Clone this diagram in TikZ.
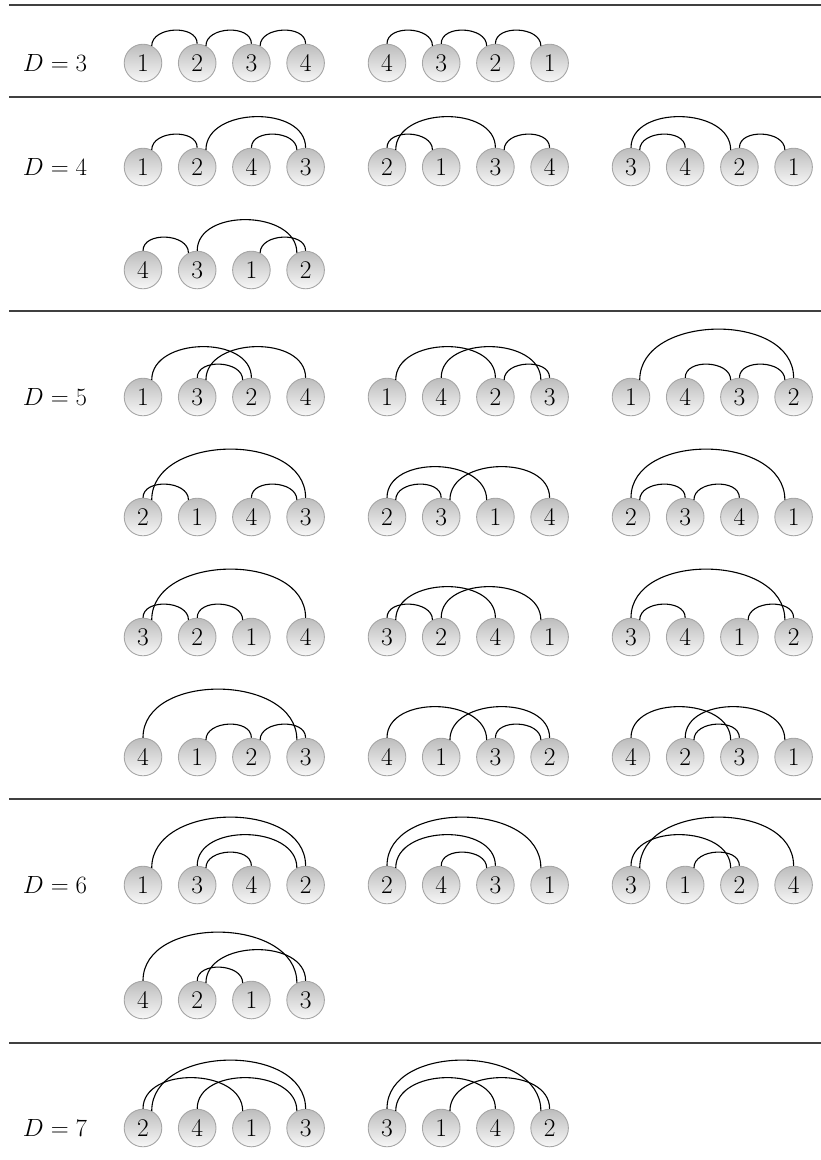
\documentclass[tikz,border=0pt]{standalone}
\usepackage{tikz}
\newdimen\arcxa
\newdimen\arcxb
\tikzset{
  nd/.style={circle, minimum size=37.6pt, inner sep=0pt, draw=black!35, line width=0.9pt,
    top color=black!26, bottom color=black!3, font=\fontsize{25.5}{30}\selectfont},
  lbl/.style={inner sep=0pt, font=\fontsize{25.5}{30}\selectfont},
  arcline/.style={draw=black, line width=1.1pt},
  rule/.style={draw=black!75, line width=1.3pt},
}
\newcommand\linkarc[2]{%
  \pgfextractx{\arcxa}{\pgfpointanchor{#1}{center}}%
  \pgfextractx{\arcxb}{\pgfpointanchor{#2}{center}}%
  \ifdim\arcxb>\arcxa \def\arcang{63}\else\def\arcang{117}\fi
  \draw[arcline] (#1.\arcang) to[out=90,in=90,looseness=1.1] (#2.north);
}
\newcommand\perm[7]{%
  \foreach \v [count=\k] in {#4,#5,#6,#7} {
    \node[nd] (#3-\v) at ({#1+(\k-1)*54.2},#2) {\v};
  }
  \linkarc{#3-1}{#3-2}
  \linkarc{#3-2}{#3-3}
  \linkarc{#3-3}{#3-4}
}
\begin{document}
\begin{tikzpicture}[x=1pt,y=1pt]
\useasboundingbox (0,0) rectangle (821,-1160);
% rules
\draw[rule] (9,-5) -- (821,-5);
\draw[rule] (9,-97) -- (821,-97);
\draw[rule] (9,-311) -- (821,-311);
\draw[rule] (9,-799) -- (821,-799);
\draw[rule] (9,-1043) -- (821,-1043);
% labels
\node[lbl] (L3) at (55,-63) {$D=3$};
\node[lbl] (L4) at (55,-167) {$D=4$};
\node[lbl] (L5) at (55,-397) {$D=5$};
\node[lbl] (L6) at (55,-885) {$D=6$};
\node[lbl] (L7) at (55,-1128) {$D=7$};
% D=3
\perm{143}{-63}{a1}{1}{2}{3}{4}
\perm{387}{-63}{a2}{4}{3}{2}{1}
% D=4
\perm{143}{-167}{b1}{1}{2}{4}{3}
\perm{387}{-167}{b2}{2}{1}{3}{4}
\perm{631}{-167}{b3}{3}{4}{2}{1}
\perm{143}{-270}{b4}{4}{3}{1}{2}
% D=5
\perm{143}{-397}{c1}{1}{3}{2}{4}
\perm{387}{-397}{c2}{1}{4}{2}{3}
\perm{631}{-397}{c3}{1}{4}{3}{2}
\perm{143}{-517}{c4}{2}{1}{4}{3}
\perm{387}{-517}{c5}{2}{3}{1}{4}
\perm{631}{-517}{c6}{2}{3}{4}{1}
\perm{143}{-637}{c7}{3}{2}{1}{4}
\perm{387}{-637}{c8}{3}{2}{4}{1}
\perm{631}{-637}{c9}{3}{4}{1}{2}
\perm{143}{-757}{c10}{4}{1}{2}{3}
\perm{387}{-757}{c11}{4}{1}{3}{2}
\perm{631}{-757}{c12}{4}{2}{3}{1}
% D=6
\perm{143}{-885}{d1}{1}{3}{4}{2}
\perm{387}{-885}{d2}{2}{4}{3}{1}
\perm{631}{-885}{d3}{3}{1}{2}{4}
\perm{143}{-1000}{d4}{4}{2}{1}{3}
% D=7
\perm{143}{-1128}{e1}{2}{4}{1}{3}
\perm{387}{-1128}{e2}{3}{1}{4}{2}
\end{tikzpicture}
\end{document}
